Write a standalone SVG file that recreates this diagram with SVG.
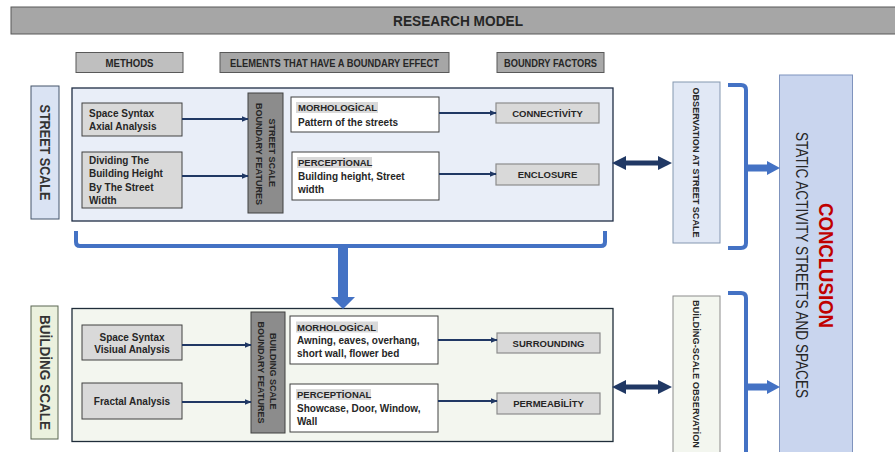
<svg xmlns="http://www.w3.org/2000/svg" width="895" height="452" viewBox="0 0 895 452">
  <defs>
    <style>
      text { font-family: "Liberation Sans", Arial, sans-serif; dominant-baseline: central; fill: #262626; }
      .b { font-weight: bold; }
      .mid { text-anchor: middle; }
      .hdrtxt { font-size: 10.5px; font-weight: bold; text-anchor: middle; }
      .mtxt { font-size: 10px; font-weight: bold; }
      .ftxt { font-size: 9.5px; font-weight: bold; text-anchor: middle; }
      .vtxt { font-size: 9px; font-weight: bold; text-anchor: middle; }
      .scale { font-size: 14px; font-weight: bold; text-anchor: middle; fill: #333333; }
      .method { fill: #d9d9d9; stroke: #404040; stroke-width: 1; }
      .bound { fill: #8c8c8c; stroke: #404040; stroke-width: 1; }
      .elem { fill: #ffffff; stroke: #404040; stroke-width: 1; }
      .factor { fill: #d9d9d9; stroke: #8c8c8c; stroke-width: 1.2; }
      .hl { fill: #d9d9d9; }
      .link { stroke: #203864; stroke-width: 2; fill: none; marker-end: url(#ah); }
      .bracket { stroke: #4472c4; stroke-width: 4; fill: none; }
      .navy { fill: #203864; }
      .blue { fill: #4472c4; }
    </style>
    <marker id="ah" viewBox="0 0 10 10" refX="9" refY="5" markerWidth="7" markerHeight="7" markerUnits="userSpaceOnUse" orient="auto">
      <path d="M0,1 L10,5 L0,9 z" fill="#203864"/>
    </marker>
  </defs>

  <!-- title bar -->
  <g id="title">
    <rect x="11" y="7" width="890" height="27" fill="#a6a6a6" stroke="#595959" stroke-width="1"/>
    <text x="458" y="20.5" class="b mid" font-size="14.5" textLength="130" lengthAdjust="spacingAndGlyphs">RESEARCH MODEL</text>
  </g>

  <!-- column headers -->
  <g id="hdr-methods">
    <rect x="76" y="52.5" width="107" height="20" fill="#bfbfbf" stroke="#595959"/>
    <text x="129.5" y="62.5" class="hdrtxt" textLength="48" lengthAdjust="spacingAndGlyphs">METHODS</text>
  </g>
  <g id="hdr-elements">
    <rect x="220" y="52.5" width="229" height="20" fill="#a6a6a6" stroke="#595959"/>
    <text x="334.5" y="62.5" class="hdrtxt" textLength="209" lengthAdjust="spacingAndGlyphs">ELEMENTS THAT HAVE A BOUNDARY EFFECT</text>
  </g>
  <g id="hdr-factors">
    <rect x="497" y="52.5" width="107" height="20" fill="#a9a9a9" stroke="#595959"/>
    <text x="550.5" y="62.5" class="hdrtxt" textLength="93" lengthAdjust="spacingAndGlyphs">BOUNDRY FACTORS</text>
  </g>

  <!-- street scale -->
  <g id="street-label">
    <rect x="31" y="86" width="28" height="133" fill="#dae3f3" stroke="#44546a"/>
    <text transform="translate(45,152.5) rotate(90)" class="scale" textLength="96" lengthAdjust="spacingAndGlyphs">STREET SCALE</text>
  </g>
  <g id="street-panel">
    <rect x="72" y="88" width="541" height="133" fill="#e9eef8" stroke="#1f2d44" stroke-width="1.3"/>
  </g>
  <g id="street-axial">
    <rect x="82" y="103" width="100" height="33" class="method"/>
    <text x="89" y="113" class="mtxt">Space Syntax</text>
    <text x="89" y="126" class="mtxt">Axial Analysis</text>
  </g>
  <g id="street-ratio">
    <rect x="82" y="152" width="100" height="56" class="method"/>
    <text x="89" y="160" class="mtxt">Dividing The</text>
    <text x="89" y="173.5" class="mtxt">Building Height</text>
    <text x="89" y="187" class="mtxt">By The Street</text>
    <text x="89" y="200.5" class="mtxt">Width</text>
  </g>
  <g id="street-boundary">
    <rect x="248" y="93" width="35" height="120" class="bound"/>
    <text transform="translate(265.5,154) rotate(90)" class="vtxt">
      <tspan x="0" y="-6.5">STREET SCALE</tspan>
      <tspan x="0" y="7">BOUNDARY FEATURES</tspan>
    </text>
  </g>
  <g id="street-morph">
    <rect x="291" y="97" width="148" height="35" class="elem"/>
    <rect x="296" y="102" width="82" height="11" class="hl"/>
    <text x="298" y="107.5" class="b" font-size="9.5">MORHOLOGİCAL</text>
    <text x="298" y="122" class="mtxt">Pattern of the streets</text>
  </g>
  <g id="street-percept">
    <rect x="292" y="152" width="147" height="48" class="elem"/>
    <rect x="297" y="157" width="75" height="11" class="hl"/>
    <text x="298" y="162.5" class="b" font-size="9.5">PERCEPTİONAL</text>
    <text x="298" y="176" class="mtxt">Building height, Street</text>
    <text x="298" y="189" class="mtxt">width</text>
  </g>
  <g id="street-connectivity">
    <rect x="496" y="103" width="103" height="20" class="factor"/>
    <text x="547.5" y="113" class="ftxt">CONNECTİVİTY</text>
  </g>
  <g id="street-enclosure">
    <rect x="496" y="164" width="103" height="21" class="factor"/>
    <text x="547.5" y="174.5" class="ftxt">ENCLOSURE</text>
  </g>
  <g id="street-observation">
    <rect x="673" y="82" width="47" height="161" fill="#e1e8f5" stroke="#8497b0"/>
    <text transform="translate(695.5,162.5) rotate(90)" class="vtxt" textLength="150" lengthAdjust="spacingAndGlyphs">OBSERVATION AT STREET SCALE</text>
  </g>

  <!-- building scale -->
  <g id="building-label">
    <rect x="31" y="306" width="27" height="133" fill="#ebf1de" stroke="#5a6652"/>
    <text transform="translate(44.5,372.5) rotate(90)" class="scale" textLength="115" lengthAdjust="spacingAndGlyphs">BUİLDİNG SCALE</text>
  </g>
  <g id="building-panel">
    <rect x="72" y="308.5" width="541" height="133" fill="#f3f6ef" stroke="#1f2d3a" stroke-width="1.3"/>
  </g>
  <g id="building-visual">
    <rect x="82" y="325" width="100" height="35" class="method"/>
    <text x="132" y="337" class="mtxt mid">Space Syntax</text>
    <text x="132" y="349.5" class="mtxt mid">Visiual Analysis</text>
  </g>
  <g id="building-fractal">
    <rect x="82" y="383" width="100" height="36" class="method"/>
    <text x="132" y="401.5" class="mtxt mid">Fractal Analysis</text>
  </g>
  <g id="building-boundary">
    <rect x="251" y="312" width="34" height="121" class="bound"/>
    <text transform="translate(267.5,372.5) rotate(90)" class="vtxt">
      <tspan x="0" y="-5.5">BUILDING SCALE</tspan>
      <tspan x="0" y="6.5">BOUNDARY FEATURES</tspan>
    </text>
  </g>
  <g id="building-morph">
    <rect x="290" y="316" width="148" height="48" class="elem"/>
    <rect x="296" y="321.5" width="82" height="11" class="hl"/>
    <text x="297" y="327" class="b" font-size="9.5">MORHOLOGİCAL</text>
    <text x="297" y="340.5" class="mtxt">Awning, eaves, overhang,</text>
    <text x="297" y="353.5" class="mtxt">short wall, flower bed</text>
  </g>
  <g id="building-percept">
    <rect x="290" y="384" width="148" height="48" class="elem"/>
    <rect x="296" y="389" width="75" height="11" class="hl"/>
    <text x="297" y="394.5" class="b" font-size="9.5">PERCEPTİONAL</text>
    <text x="297" y="408" class="mtxt">Showcase, Door, Window,</text>
    <text x="297" y="421" class="mtxt">Wall</text>
  </g>
  <g id="building-surrounding">
    <rect x="497" y="333" width="103" height="20" class="factor"/>
    <text x="548.5" y="343" class="ftxt">SURROUNDING</text>
  </g>
  <g id="building-permeability">
    <rect x="497" y="393" width="103" height="21" class="factor"/>
    <text x="548.5" y="403.5" class="ftxt">PERMEABİLİTY</text>
  </g>
  <g id="building-observation">
    <rect x="673" y="296" width="47" height="170" fill="#f3f6ef" stroke="#8c8c8c"/>
    <text transform="translate(695.5,374) rotate(90)" class="vtxt" textLength="148" lengthAdjust="spacingAndGlyphs">BUİLDİNG-SCALE OBSERVATİON</text>
  </g>

  <!-- conclusion -->
  <g id="conclusion">
    <rect x="779.5" y="75" width="73" height="390" fill="#c9d5ee" stroke="#7f93bd"/>
    <text transform="translate(825.5,265.5) rotate(90)" class="b mid" font-size="20" style="fill:#c00000" textLength="125" lengthAdjust="spacingAndGlyphs">CONCLUSION</text>
    <text transform="translate(801.5,265) rotate(90)" class="mid" font-size="16" textLength="266" lengthAdjust="spacingAndGlyphs">STATIC ACTIVITY STREETS AND SPACES</text>
  </g>

  <!-- connectors -->
  <g id="connectors">
    <!-- methods to boundary features -->
    <path class="link" d="M182,119 H248"/>
    <path class="link" d="M182,176 H248"/>
    <path class="link" d="M182,345 H251"/>
    <path class="link" d="M182,402 H251"/>
    <!-- elements to factors -->
    <path class="link" d="M439,113 H496"/>
    <path class="link" d="M439,174 H496"/>
    <path class="link" d="M438,340 H497"/>
    <path class="link" d="M438,401 H497"/>

    <!-- street bracket and drop to building panel -->
    <path class="bracket" d="M76,231 V242 Q76,246 80,246 H601 Q605,246 605,242 V231" stroke-width="5"/>
    <polygon class="blue" points="338,246 348,246 348,297 355,297 343,309 331,297 338,297"/>

    <!-- panels to observations (two-way) -->
    <polygon class="navy" points="612,163 626,156 626,160.5 658,160.5 658,156 672,163 658,170 658,165.5 626,165.5 626,170"/>
    <polygon class="navy" points="612,387 626,380 626,384.5 658,384.5 658,380 672,387 658,394 658,389.5 626,389.5 626,394"/>

    <!-- observation brackets to conclusion -->
    <path class="bracket" d="M728,85 H741 Q746,85 746,90 V243 Q746,248 741,248 H728"/>
    <path class="bracket" d="M728,293 H741 Q746,293 746,298 V466"/>
    <polygon class="blue" points="747,164.5 767,164.5 767,161 780,168 767,175 767,171.5 747,171.5"/>
    <polygon class="blue" points="747,383.5 767,383.5 767,380 780,387 767,394 767,390.5 747,390.5"/>
  </g>
</svg>
